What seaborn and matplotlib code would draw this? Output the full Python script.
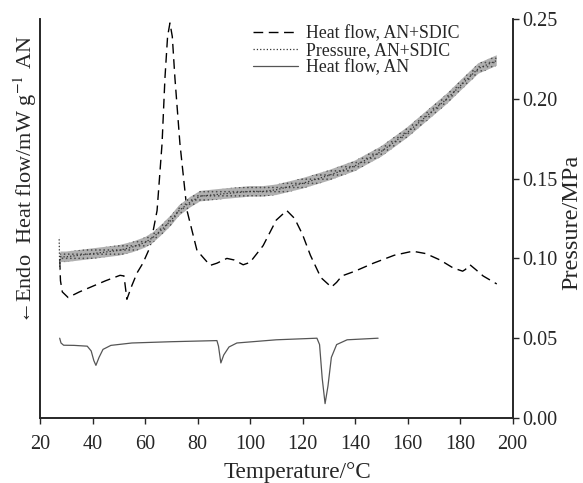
import numpy as np
import pandas as pd
import matplotlib
matplotlib.use("Agg")
import matplotlib.pyplot as plt
import seaborn as sns

# heat flow AN+SDIC (arbitrary units, left axis has no scale)
hf_sdic_T = [27.5, 27.8, 28.5, 30.7, 35, 40, 45, 50.5, 52.0, 53.1, 55, 57, 59.2, 61.9,
             64.6, 66.5, 67.6, 68.6, 69.5, 70.4, 71.4, 73.3, 76, 79.8, 84.8, 87.4,
             91.2, 94, 97.4, 100, 105, 110, 114, 117, 120, 123, 127, 131, 133, 135,
             140, 147, 155, 162, 167, 172.4, 177.4, 181, 182, 183.8, 186, 188.8, 194]
hf_sdic = [9.9, 8.6, 7.9, 7.55, 7.9, 8.25, 8.6, 8.94, 8.9, 7.44, 8.3, 9.1, 9.7, 10.7,
           13.0, 17.2, 21.3, 23.9, 24.75, 23.9, 21.3, 17.2, 13.0, 10.5, 9.56, 9.7,
           10.0, 9.9, 9.6, 9.75, 10.8, 12.4, 13.0, 12.5, 11.5, 10.2, 8.8, 8.2, 8.5,
           8.9, 9.2, 9.7, 10.2, 10.45, 10.3, 9.9, 9.4, 9.2, 9.3, 9.6, 9.3, 8.9, 8.4]

# heat flow AN
hf_an_T = [27.5, 28, 29, 33, 38, 39.5, 40.5, 41.3, 42.5, 44, 47, 55, 70, 87.4,
           88, 88.9, 90, 92, 95, 110, 125.5, 126.5, 127.5, 128.6, 129.7, 131,
           133, 137, 148.8]
hf_an = [5.0, 4.7, 4.56, 4.55, 4.5, 4.2, 3.6, 3.3, 3.8, 4.3, 4.55, 4.7, 4.78, 4.85,
         4.5, 3.45, 3.95, 4.45, 4.7, 4.9, 5.0, 4.6, 2.5, 0.9, 2.0, 3.8,
         4.6, 4.9, 5.0]

# pressure AN+SDIC (MPa)
p_T = [27.3, 27.5, 27.8, 30, 40, 50, 55, 60, 63, 67, 70, 73, 77, 81, 90, 100,
       105, 110, 115, 120, 130, 140, 150, 160, 170, 175, 180, 187, 194]
p_val = [0.112, 0.095, 0.101, 0.101, 0.103, 0.105, 0.107, 0.110, 0.113, 0.119,
         0.124, 0.130, 0.135, 0.139, 0.1405, 0.142, 0.142, 0.143, 0.145, 0.147,
         0.152, 0.158, 0.167, 0.179, 0.193, 0.200, 0.208, 0.219, 0.224]

x_ticks = [20, 40, 60, 80, 100, 120, 140, 160, 180, 200]
p_ticks = [0.00, 0.05, 0.10, 0.15, 0.20, 0.25]

sns.set_style("ticks")
plt.rcParams['font.family'] = ['Liberation Serif', 'DejaVu Serif']
plt.rcParams['mathtext.fontset'] = 'stix'
plt.rcParams['hatch.linewidth'] = 0.6

fig = plt.figure(figsize=(5.83, 4.83), dpi=100)
ax = fig.add_axes([40 / 583, 1 - 418 / 483, (512.5 - 40) / 583, (418 - 19) / 483])
ax2 = ax.twinx()

df_sdic = pd.DataFrame({"T": hf_sdic_T, "hf": hf_sdic})
df_an = pd.DataFrame({"T": hf_an_T, "hf": hf_an})
df_p = pd.DataFrame({"T": p_T, "p": p_val})

sns.lineplot(data=df_sdic, x="T", y="hf", ax=ax, color="black", lw=1.0, legend=False)
h_sdic = ax.lines[-1]
h_sdic.set_dashes([7, 4])
sns.lineplot(data=df_an, x="T", y="hf", ax=ax, color="#555555", lw=0.9, legend=False)
h_an = ax.lines[-1]

# noisy pressure trace drawn as a speckled band
ax2.fill_between(df_p["T"], df_p["p"] - 0.0033, df_p["p"] + 0.0033,
                 facecolor="#b0b0b0", edgecolor="#505050", hatch="....", lw=0)
sns.lineplot(data=df_p, x="T", y="p", ax=ax2, color="#333333", lw=0.9,
             linestyle=":", legend=False)
h_p = ax2.lines[-1]

ax.set_xlim(20, 200)
ax.set_ylim(0, 25)
ax2.set_ylim(0, 0.25)
ax.set_xticks(x_ticks)
ax.set_yticks([])
ax2.set_yticks(p_ticks)
ax2.set_yticklabels([f"{v:.2f}" for v in p_ticks])

for a in (ax, ax2):
    a.spines['top'].set_visible(False)
    for s in ('left', 'right', 'bottom'):
        a.spines[s].set_linewidth(1.2)
ax.tick_params(axis='x', direction='out', length=4, width=1.0, labelsize=14.5, pad=8)
ax2.tick_params(axis='y', direction='out', length=4, width=1.0, labelsize=14.5, pad=3)

ax.set_xlabel("Temperature/°C", fontsize=16.7, labelpad=6)
ax.xaxis.label.set_x(0.544)
ax.set_ylabel("")
ax2.set_ylabel("Pressure/MPa", fontsize=17.5, labelpad=3)
ax2.yaxis.label.set_y(0.49)
fig.text(25 / 583, 1 - 180 / 483, r"←Endo  Heat flow/mW g$^{-1}$ AN", fontsize=16,
         rotation=90, ha="center", va="center")

leg = ax.legend([h_sdic, h_p, h_an], ["Heat flow, AN+SDIC", "Pressure, AN+SDIC", "Heat flow, AN"],
                loc="upper left", bbox_to_anchor=(0.451, 0.985), frameon=False,
                fontsize=12.8, handlelength=2.5, handletextpad=0.5,
                labelspacing=0.0, borderaxespad=0.0, borderpad=0.0)

fig.savefig("out.png", dpi=100)
